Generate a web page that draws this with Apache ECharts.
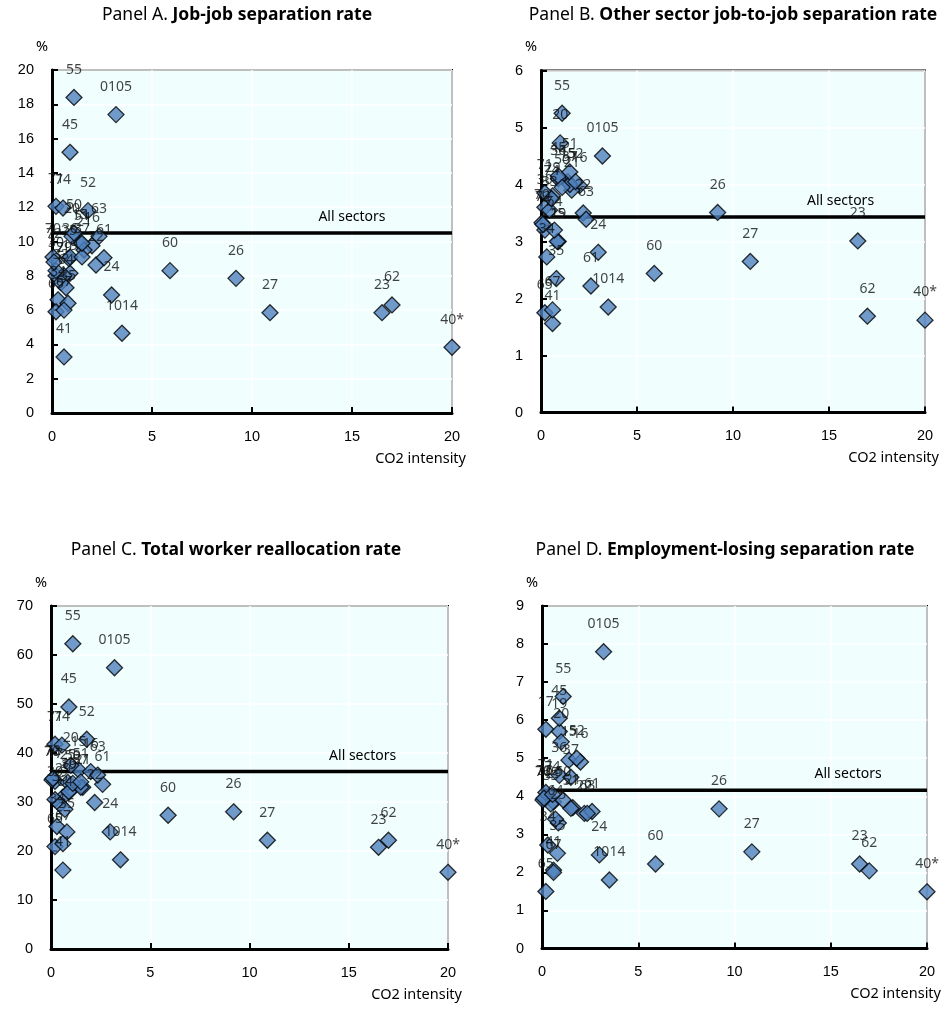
<!DOCTYPE html>
<html><head><meta charset="utf-8">
<script src="https://cdn.jsdelivr.net/npm/echarts@6/dist/echarts.min.js"></script>
<style>html,body{margin:0;padding:0;background:#fff}#c{width:947px;height:1012px}</style>
</head><body><div id="c"></div>
<script>
// ---- data ----
const sectors = ["0105","1014","15","16","17","19","20","21","22","23","24","25","26","27","29","30","33","34","35","36","37","40*","41","45","50","51","52","55","60","61","62","63","64","65","67","70","71","72","74"];
const co2Intensity = [3.2,3.5,1.4,2.0,0.2,0.9,1.0,1.6,2.2,16.5,2.98,0.85,9.2,10.9,0.6,0.2,0.45,0.3,0.8,0.9,1.5,20,0.6,0.9,1.1,1.5,1.8,1.1,5.9,2.6,17.0,2.35,0.7,0.2,0.6,0.05,0.2,0.1,0.55];
const jobJobRate = [17.4,4.65,9.95,9.75,8.0,8.15,10.3,9.5,8.63,5.85,6.88,9.0,7.85,5.85,8.0,8.3,7.6,6.6,6.4,9.1,9.1,3.83,3.27,15.2,10.5,9.9,11.8,18.4,8.3,9.05,6.3,10.3,7.3,5.9,6.0,9.1,12.05,8.8,11.95];
const otherSectorRate = [4.5,1.85,4.05,3.98,3.2,3.0,4.73,3.9,3.5,3.01,2.81,3.0,3.51,2.65,3.8,3.6,3.55,2.73,2.35,4.1,4.0,1.62,1.56,4.15,3.95,4.22,4.05,5.25,2.44,2.22,1.69,3.39,3.2,1.75,1.8,3.33,3.85,3.3,3.75];
const totalReallocRate = [57.4,18.2,36.5,36.2,34.2,32.0,37.5,33.0,29.9,20.75,23.9,34.0,28.0,22.2,31.0,30.5,29.5,25.0,23.9,32.1,33.0,15.65,16.1,49.4,33.8,34.1,42.8,62.3,27.3,33.6,22.2,35.5,28.5,20.9,21.5,34.5,41.8,34.8,41.6];
const empLosingRate = [7.8,1.8,4.95,4.9,5.76,5.7,5.43,3.7,3.55,2.22,2.46,3.3,3.67,2.54,3.85,3.95,3.8,2.72,2.5,4.55,4.5,1.49,2.06,6.05,3.9,3.68,5.0,6.62,2.22,3.6,2.04,3.55,3.4,1.5,2.0,3.9,4.1,3.95,4.05];
const allSectorsAvg = [10.5, 3.43, 36.2, 4.16];
const panelPrefix = ["Panel A. ","Panel B. ","Panel C. ","Panel D. "];
const panelTitle = ["Job-job separation rate","Other sector job-to-job separation rate","Total worker reallocation rate","Employment-losing separation rate"];
const xMin = 0, xMax = 20, xStep = 5;
const yMax = [20, 6, 70, 9];
const yStep = [2, 1, 10, 1];
const xAxisName = "CO2 intensity";
const yAxisName = "%";
const avgLabel = "All sectors";

// ---- layout ----
const series4 = [jobJobRate, otherSectorRate, totalReallocRate, empLosingRate];
const grids = [
  {left:52, top:70, width:400, height:343},
  {left:541, top:70.5, width:384, height:342},
  {left:51, top:606, width:397, height:343},
  {left:542, top:606, width:385, height:342.5}
];
const titlePos = [[237,6],[733,6],[236,541],[725,541]];
const avgLabelX = [15, 15.6, 15.7, 15.9];

const LBL = 'Noto Sans';
const TICK = 'Liberation Sans';
const option = {
  animation:false,
  backgroundColor:'#fff',
  title: titlePos.map((p,i)=>({
    left:p[0], top:p[1], textAlign:'center', padding:0,
    text:'{n|'+panelPrefix[i]+'}{b|'+panelTitle[i]+'}',
    textStyle:{fontWeight:'normal',rich:{
      n:{fontFamily:LBL,fontSize:17.5,fontWeight:'normal',color:'#000'},
      b:{fontFamily:LBL,fontSize:17.5,fontWeight:'bold',color:'#000'}
    }}
  })),
  grid: grids.map(g=>Object.assign({show:true, backgroundColor:'#F0FEFE', borderColor:'#000', borderWidth:2, containLabel:false}, g)),
  xAxis: grids.map((g,i)=>({
    type:'value', gridIndex:i, min:xMin, max:xMax, interval:xStep,
    name:xAxisName, nameLocation:'end', nameGap:14,
    nameTextStyle:{fontFamily:LBL,fontSize:14.5,color:'#000',align:'right',verticalAlign:'top',padding:[38,0,0,0]},
    axisLine:{show:true,onZero:false,lineStyle:{color:'#000',width:3}},
    axisTick:{show:true,inside:true,length:6,lineStyle:{color:'#000',width:2}},
    axisLabel:{fontFamily:TICK,fontSize:14.5,color:'#000',margin:16},
    splitLine:{show:true,lineStyle:{color:'#fff',width:1.5}}
  })),
  yAxis: grids.map((g,i)=>({
    type:'value', gridIndex:i, min:0, max:yMax[i], interval:yStep[i],
    name:yAxisName, nameLocation:'end', nameGap:16,
    nameTextStyle:{fontFamily:LBL,fontSize:14.5,color:'#000',align:'center',padding:[0,20,0,0]},
    axisLine:{show:true,onZero:false,lineStyle:{color:'#000',width:3}},
    axisTick:{show:true,inside:true,length:6,lineStyle:{color:'#000',width:2}},
    axisLabel:{fontFamily:TICK,fontSize:14.5,color:'#000',margin:18},
    splitLine:{show:true,lineStyle:{color:'#fff',width:1.5}}
  })),
  series: []
};
series4.forEach((ys,i)=>{
  option.series.push({
    type:'line', xAxisIndex:i, yAxisIndex:i, z:2,
    symbol:'circle', symbolSize:0, showSymbol:true, showAllSymbol:true,
    lineStyle:{color:'#000',width:3.5},
    label:{show:false},
    data:[[xMin,allSectorsAvg[i]],
          {value:[avgLabelX[i],allSectorsAvg[i]],label:{show:true,position:'top',distance:9,formatter:avgLabel,fontFamily:LBL,fontSize:14,color:'#000'}},
          [xMax,allSectorsAvg[i]]]
  });
  option.series.push({
    type:'scatter', xAxisIndex:i, yAxisIndex:i, z:3, clip:false,
    symbol:'diamond', symbolSize:16,
    itemStyle:{color:'#4F81BD',borderColor:'#000',borderWidth:1.3},
    label:{show:true,position:'top',distance:12,formatter:'{b}',fontFamily:LBL,fontSize:14,color:'#111'},
    data: sectors.map((s,k)=>({name:s,value:[co2Intensity[k],ys[k]]}))
  });
});
const chart = echarts.init(document.getElementById('c'),null,{renderer:'canvas'});
chart.setOption(option);
</script></body></html>
